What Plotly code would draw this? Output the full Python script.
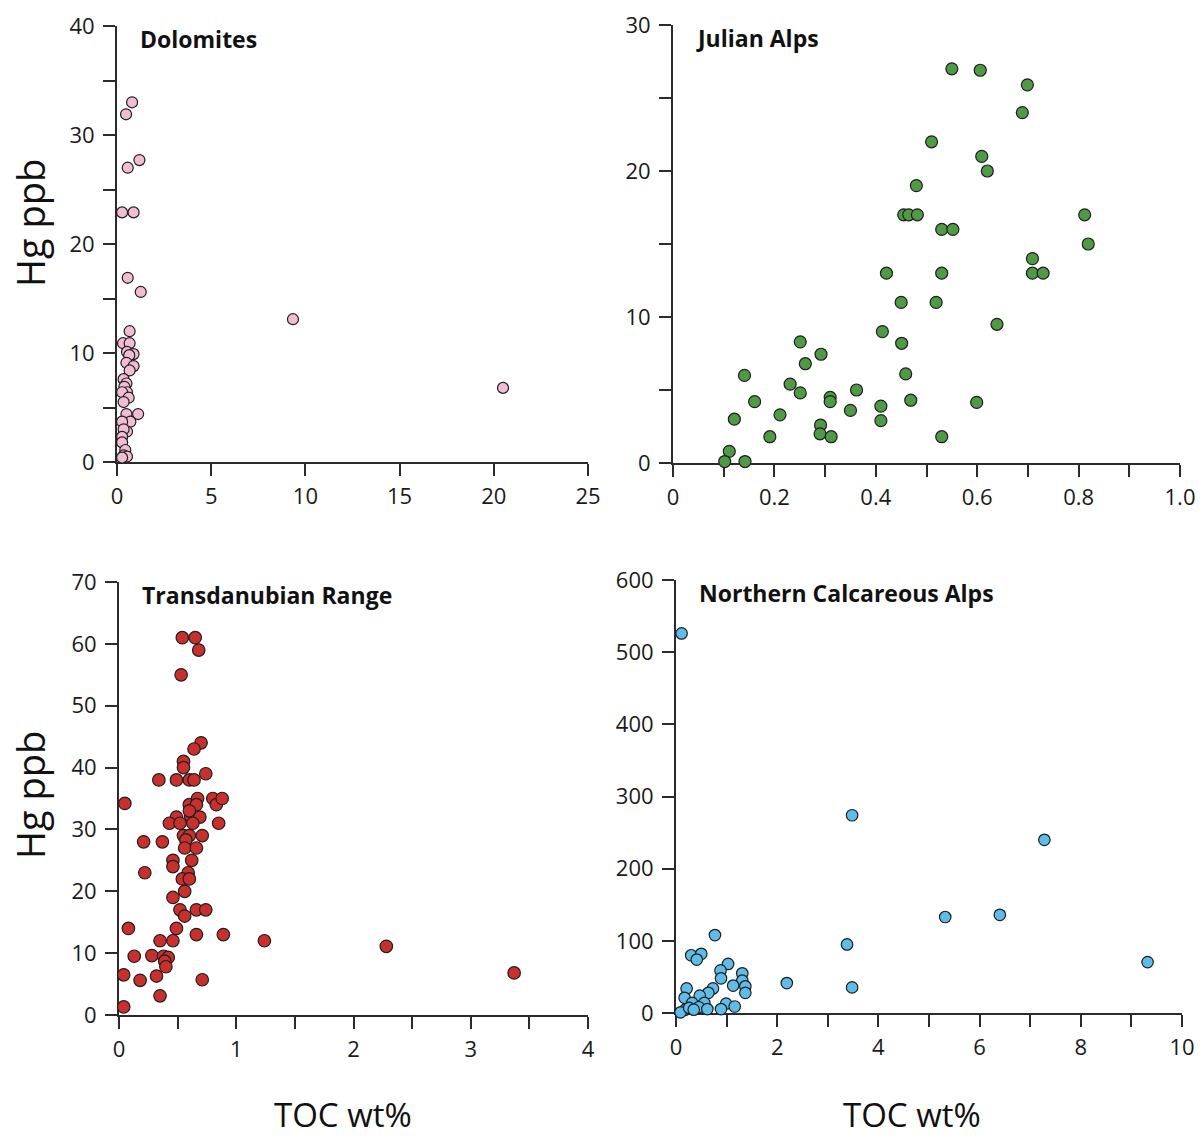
import plotly.graph_objects as go

W, H = 1202, 1140

# ---------------- data ----------------
dolo_toc = [0.80, 0.48, 1.19, 0.57, 0.27, 0.88, 0.57, 1.26, 0.67, 0.32, 0.67, 0.53, 0.88, 0.65,
            0.50, 0.88, 0.67, 0.35, 0.50, 0.39, 0.53, 0.27, 0.62, 0.35, 0.50, 1.12, 0.71, 0.27,
            0.53, 0.35, 0.27, 0.27, 0.44, 0.35, 0.53, 0.27, 9.34, 20.49]
dolo_hg = [33.0, 31.9, 27.7, 27.0, 22.9, 22.9, 16.9, 15.6, 12.0, 10.9, 10.9, 10.1, 9.9, 9.8,
           9.1, 8.8, 8.4, 7.6, 7.2, 6.9, 6.4, 6.4, 5.9, 5.5, 4.4, 4.4, 3.7, 3.7,
           2.8, 3.0, 2.3, 1.8, 1.1, 0.6, 0.5, 0.4, 13.1, 6.8]

jul_toc = [0.550, 0.606, 0.699, 0.689, 0.510, 0.609, 0.620, 0.480, 0.455, 0.465, 0.482, 0.812,
           0.530, 0.552, 0.819, 0.709, 0.421, 0.530, 0.709, 0.730, 0.450, 0.519, 0.639, 0.413,
           0.251, 0.451, 0.292, 0.261, 0.141, 0.459, 0.231, 0.251, 0.362, 0.310, 0.310, 0.161,
           0.469, 0.599, 0.410, 0.211, 0.350, 0.121, 0.410, 0.291, 0.290, 0.191, 0.312, 0.530,
           0.111, 0.102, 0.142]
jul_hg = [27.0, 26.9, 25.9, 24.0, 22.0, 21.0, 20.0, 19.0, 17.0, 17.0, 17.0, 17.0,
          16.0, 16.0, 15.0, 14.0, 13.0, 13.0, 13.0, 13.0, 11.0, 11.0, 9.5, 9.0,
          8.3, 8.2, 7.45, 6.8, 6.0, 6.1, 5.4, 4.8, 5.0, 4.5, 4.2, 4.2,
          4.3, 4.15, 3.9, 3.3, 3.6, 3.0, 2.9, 2.6, 2.0, 1.8, 1.8, 1.8,
          0.8, 0.1, 0.1]

tr_toc = [0.54, 0.65, 0.68, 0.53, 0.70, 0.64, 0.55, 0.55, 0.34, 0.49, 0.60, 0.64, 0.74, 0.05,
          0.60, 0.67, 0.66, 0.80, 0.83, 0.88, 0.49, 0.61, 0.69, 0.60, 0.43, 0.52, 0.63, 0.85,
          0.55, 0.60, 0.71, 0.21, 0.37, 0.57, 0.56, 0.66, 0.46, 0.62, 0.46, 0.22, 0.59, 0.54,
          0.60, 0.56, 0.46, 0.52, 0.66, 0.74, 0.56, 0.08, 0.49, 0.66, 0.89, 0.35, 0.46, 1.24,
          2.28, 0.13, 0.28, 0.38, 0.42, 0.39, 0.40, 0.04, 0.32, 0.18, 0.71, 0.35, 0.04, 3.37]
tr_hg = [61.0, 61.0, 59.0, 55.0, 44.0, 43.0, 41.0, 40.0, 38.0, 38.0, 38.0, 38.0, 39.0, 34.2,
         34.0, 35.0, 34.0, 35.0, 34.0, 35.0, 32.0, 32.2, 32.0, 33.0, 31.0, 31.0, 31.0, 31.0,
         29.0, 29.0, 29.0, 28.0, 28.0, 28.3, 27.0, 27.0, 25.0, 25.0, 24.0, 23.0, 23.0, 22.0,
         22.0, 20.0, 19.0, 17.0, 17.0, 17.0, 16.0, 14.0, 14.0, 13.0, 13.0, 12.0, 12.0, 12.0,
         11.1, 9.5, 9.6, 9.5, 9.3, 8.7, 7.8, 6.5, 6.3, 5.6, 5.7, 3.1, 1.3, 6.8]

nca_toc = [0.11, 3.48, 7.28, 5.32, 6.40, 3.38, 9.32, 2.19, 3.48, 0.77, 0.30, 0.50, 0.41, 1.03,
           0.88, 1.31, 0.89, 1.31, 1.13, 1.37, 1.37, 0.21, 0.73, 0.64, 0.47, 0.17, 0.56, 0.32,
           0.99, 1.16, 0.45, 0.62, 0.89, 0.18, 0.09, 0.26, 0.35]
nca_hg = [526, 274, 240, 133, 136, 95, 70.5, 41.5, 35.5, 108, 80, 82, 74, 68,
          59, 55, 48, 45, 38, 37, 28, 34, 34, 28, 24, 21, 14, 14,
          13, 9, 8, 5.5, 5.5, 4.6, 1, 7, 4.6]

# ---------------- style ----------------
AX = "#2b2b2b"
TICKFONT = dict(family="Open Sans", size=22, color="#1a1a1a")
TITLEFONT = dict(family="Open Sans", size=23, color="#111111")

panels = [
    ("Dolomites", dolo_toc, dolo_hg, "#F2BDD3", 11, (117, 588), (26, 462), [0, 25], [0, 40], 5, None, 10, 5),
    ("Julian Alps", jul_toc, jul_hg, "#4F9A45", 12, (673, 1180), (25, 463), [0, 1.0], [0, 30], 0.2, 0.1, 10, 5),
    ("Transdanubian Range", tr_toc, tr_hg, "#C9302D", 12.5, (119, 588), (582, 1015), [0, 4], [0, 70], 1, 0.5, 10, None),
    ("Northern Calcareous Alps", nca_toc, nca_hg, "#5DBDE8", 11.5, (676, 1182), (580, 1013), [0, 10], [0, 600], 2, 1, 100, None),
]

fig = go.Figure()
layout = dict(width=W, height=H, margin=dict(l=0, r=0, t=0, b=0, autoexpand=False),
              paper_bgcolor="white", plot_bgcolor="white", showlegend=False)
annotations = []
shapes = []

for i, (name, xs, ys, col, msz, xd, yd, xr, yr, xdt, xmin, ydt, ymin) in enumerate(panels):
    n = "" if i == 0 else str(i + 1)
    xa, ya = "xaxis" + n, "yaxis" + n
    fig.add_trace(go.Scatter(
        x=xs, y=ys, mode="markers", xaxis="x" + n, yaxis="y" + n, cliponaxis=False,
        marker=dict(size=msz, color=col, line=dict(color="#1e1e1e", width=1.2))))
    xdict = dict(domain=[xd[0] / W, xd[1] / W], range=xr, anchor="y" + n, automargin=False,
                 showline=True, linecolor=AX, linewidth=2, ticks="outside", ticklen=12,
                 tickwidth=2, tickcolor=AX, dtick=xdt, tick0=0, showgrid=False, zeroline=False,
                 tickfont=TICKFONT, layer="below traces", ticklabelstandoff=2)
    if xmin:
        xdict["minor"] = dict(dtick=xmin, tick0=0, ticks="outside", ticklen=12,
                              tickwidth=2, tickcolor=AX, showgrid=False)
    ydict = dict(domain=[1 - yd[1] / H, 1 - yd[0] / H], range=yr, anchor="x" + n, automargin=False,
                 showline=True, linecolor=AX, linewidth=2, ticks="outside", ticklen=12,
                 tickwidth=2, tickcolor=AX, dtick=ydt, tick0=0, showgrid=False, zeroline=False,
                 tickfont=TICKFONT, layer="below traces", ticklabelstandoff=4)
    if ymin:
        ydict["minor"] = dict(dtick=ymin, tick0=0, ticks="outside", ticklen=12,
                              tickwidth=2, tickcolor=AX, showgrid=False)
    if xdt == 0.2:
        xdict["tickvals"] = [0, 0.2, 0.4, 0.6, 0.8, 1.0]
        xdict["ticktext"] = ["0", "0.2", "0.4", "0.6", "0.8", "1.0"]
    layout[xa] = xdict
    layout[ya] = ydict
    shapes.append(dict(type="line", xref="x" + n, yref="y" + n, xsizemode="pixel",
                       xanchor=xr[0], x0=-12, x1=0, y0=yr[0], y1=yr[0],
                       line=dict(color=AX, width=2), layer="below"))
    annotations.append(dict(text="<b>" + name + "</b>", xref="paper", yref="paper",
                            x=(xd[0] + 21) / W, y=1 - (yd[0] + 13) / H,
                            xanchor="left", yanchor="middle", showarrow=False, font=TITLEFONT))

for yc in (223, 795):
    annotations.append(dict(text="Hg ppb", xref="paper", yref="paper", x=30 / W, y=1 - yc / H,
                            xanchor="center", yanchor="middle", textangle=-90, showarrow=False,
                            font=dict(family="Open Sans", size=38, color="#111111")))
for xc in (343, 912):
    annotations.append(dict(text="TOC wt%", xref="paper", yref="paper", x=xc / W, y=1 - 1114 / H,
                            xanchor="center", yanchor="middle", showarrow=False,
                            font=dict(family="Open Sans", size=33, color="#111111")))

layout["annotations"] = annotations
layout["shapes"] = shapes
fig.update_layout(**layout)
fig.write_html("out.html")
